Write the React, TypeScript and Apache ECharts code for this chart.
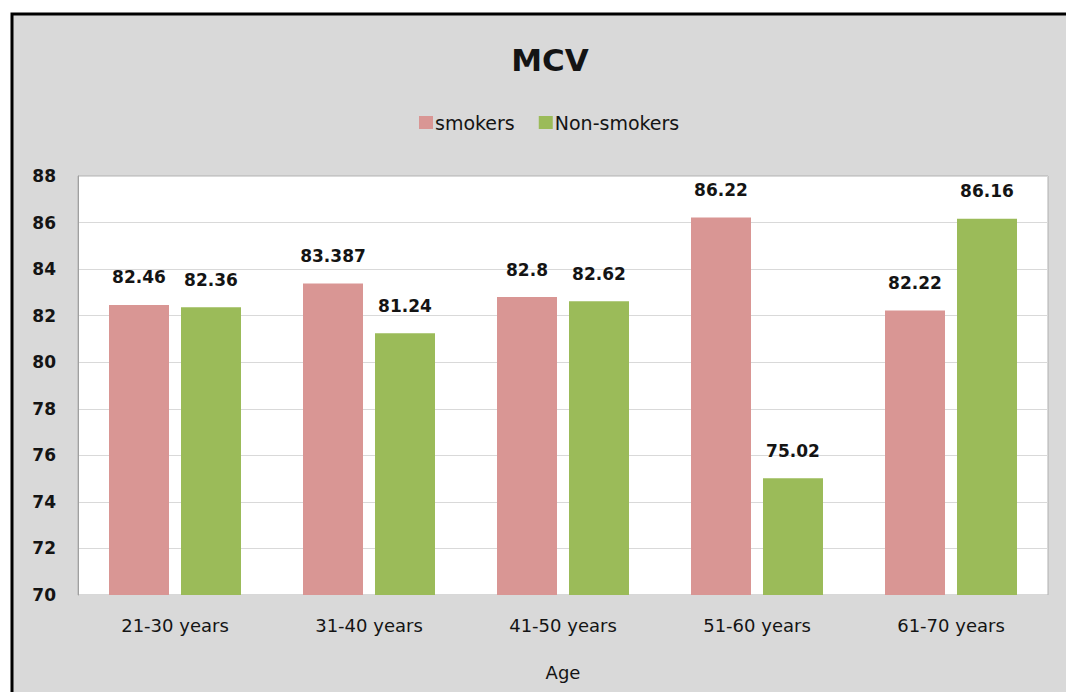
import React, { useEffect, useRef } from "react";
import * as echarts from "echarts";

const categories = ["21-30 years", "31-40 years", "41-50 years", "51-60 years", "61-70 years"];
const smokers = [82.46, 83.387, 82.8, 86.22, 82.22];
const nonSmokers = [82.36, 81.24, 82.62, 75.02, 86.16];
const seriesNames = ["smokers", "Non-smokers"];
const yMin = 70;
const yMax = 88;
const yInterval = 2;

const FONT = "DejaVu Sans";
const TEXT = "#141414";

export default function App() {
  const ref = useRef<HTMLDivElement>(null);
  useEffect(() => {
    if (!ref.current) return;
    const chart = echarts.init(ref.current, undefined, { renderer: "svg" });
    const label = {
      show: true,
      position: "top" as const,
      distance: 19,
      fontFamily: FONT,
      fontSize: 17,
      fontWeight: "bold" as const,
      color: TEXT,
    };
    chart.setOption({
      animation: false,
      backgroundColor: "#ffffff",
      graphic: [
        {
          type: "rect",
          z: -10,
          silent: true,
          shape: { x: 12, y: 14, width: 1080, height: 700 },
          style: { fill: "#d9d9d9", stroke: "#000000", lineWidth: 3 },
        },
      ],
      title: {
        text: "MCV",
        left: 545,
        textAlign: "center",
        top: 39,
        textStyle: { fontFamily: FONT, fontSize: 31, fontWeight: "bold", color: TEXT },
      },
      legend: {
        top: 108,
        left: 414,
        itemWidth: 14,
        itemHeight: 13,
        itemGap: 24,
        icon: "rect",
        data: seriesNames,
        textStyle: { fontFamily: FONT, fontSize: 19, color: TEXT, padding: [0, 0, 0, -3] },
      },
      grid: {
        left: 78,
        right: 18,
        top: 176,
        bottom: 97,
        show: true,
        backgroundColor: "#ffffff",
        borderColor: "#b0b0b0",
        borderWidth: 1,
      },
      xAxis: {
        type: "category",
        data: categories,
        name: "Age",
        nameLocation: "middle",
        nameGap: 68,
        nameTextStyle: { fontFamily: FONT, fontSize: 18, color: TEXT },
        axisTick: { show: false },
        axisLine: { show: false },
        axisLabel: { fontFamily: FONT, fontSize: 18, color: TEXT, margin: 21 },
      },
      yAxis: {
        type: "value",
        min: yMin,
        max: yMax,
        interval: yInterval,
        axisLine: { show: true, lineStyle: { color: "#a0a0a0" } },
        axisTick: { show: false },
        axisLabel: { fontFamily: FONT, fontSize: 17, fontWeight: "bold", color: TEXT, margin: 22 },
        splitLine: { lineStyle: { color: "#d9d9d9" } },
      },
      series: [
        {
          name: seriesNames[0],
          type: "bar",
          data: smokers,
          barWidth: 60,
          barGap: "20%",
          itemStyle: { color: "#d99694" },
          label,
        },
        {
          name: seriesNames[1],
          type: "bar",
          data: nonSmokers,
          barWidth: 60,
          barGap: "20%",
          itemStyle: { color: "#9bbb59" },
          label,
        },
      ],
    });
    return () => chart.dispose();
  }, []);
  return (
    <div
      ref={ref}
      style={{ position: "absolute", left: 0, top: 0, width: 1066, height: 692 }}
    />
  );
}
